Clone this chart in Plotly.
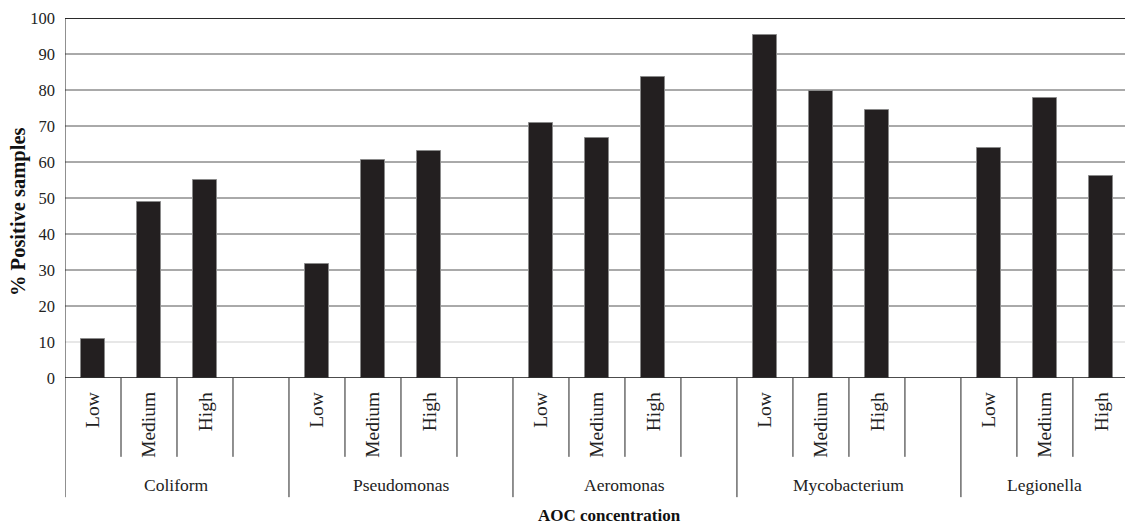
import plotly.graph_objects as go

groups = ["Coliform", "Pseudomonas", "Aeromonas", "Mycobacterium", "Legionella"]
levels = ["Low", "Medium", "High"]
values = {
    "Coliform": [10.8, 48.8, 55.0],
    "Pseudomonas": [31.7, 60.6, 63.0],
    "Aeromonas": [70.8, 66.8, 83.5],
    "Mycobacterium": [95.3, 79.8, 74.4],
    "Legionella": [63.8, 77.7, 56.2],
}
y_ticks = [0, 10, 20, 30, 40, 50, 60, 70, 80, 90, 100]

SLOTS = 4  # Low, Medium, High, blank
FONT = "'Liberation Serif', 'Times New Roman', Times, serif"

xs, ys = [], []
for gi, g in enumerate(groups):
    for li, v in enumerate(values[g]):
        xs.append(gi * SLOTS + li)
        ys.append(v)

fig = go.Figure()
fig.add_trace(go.Bar(
    x=xs, y=ys, width=0.44,
    marker=dict(color="#231f20", line=dict(color="#8a8a8a", width=1)),
    hoverinfo="x+y",
))

shapes = []
for t in y_ticks:
    if t == 0:
        continue
    if t == 100:
        col, w = "#2a2a2a", 2
    elif t == 10:
        col, w = "#cfcfcf", 1
    else:
        col, w = "#555555", 1
    shapes.append(dict(type="line", xref="paper", yref="y", x0=0, x1=1, y0=t, y1=t,
                       line=dict(color=col, width=w), layer="below"))

short_bottom = -0.219
long_bottom = -0.331
n_slots = len(groups) * SLOTS - 1
for k in range(n_slots):
    xb = k - 0.5
    if k % SLOTS == 0:
        y_top = 1 if k == 0 else 0
        shapes.append(dict(type="line", xref="x", yref="paper", x0=xb, x1=xb, y0=long_bottom, y1=y_top,
                           line=dict(color="#222", width=1)))
    else:
        shapes.append(dict(type="line", xref="x", yref="paper", x0=xb, x1=xb, y0=short_bottom, y1=0,
                           line=dict(color="#222", width=1)))
shapes.append(dict(type="line", xref="paper", yref="y", x0=0, x1=1, y0=0, y1=0,
                   line=dict(color="#111", width=1.5)))

annotations = []
for gi, g in enumerate(groups):
    for li, lv in enumerate(levels):
        annotations.append(dict(x=gi * SLOTS + li, y=-0.033, xref="x", yref="paper",
                                text=lv, textangle=-90, showarrow=False,
                                xanchor="center", yanchor="top",
                                font=dict(family=FONT, size=19.5, color="#222")))
    start = gi * SLOTS - 0.5
    end = min(start + SLOTS, n_slots - 0.5)
    annotations.append(dict(x=(start + end) / 2, y=-0.297, xref="x", yref="paper",
                            text=g, showarrow=False, xanchor="center", yanchor="middle",
                            font=dict(family=FONT, size=17.5, color="#222")))

annotations.append(dict(x=0.514, y=(378 - 515) / 360, xref="paper", yref="paper",
                        text="<b>AOC concentration</b>", showarrow=False,
                        xanchor="center", yanchor="middle",
                        font=dict(family=FONT, size=17, color="#111")))
annotations.append(dict(x=(18 - 65) / 1060, y=(378 - 212) / 360, xref="paper", yref="paper",
                        text="<b>% Positive samples</b>", showarrow=False, textangle=-90,
                        xanchor="center", yanchor="middle",
                        font=dict(family=FONT, size=20.5, color="#111")))

fig.update_layout(
    width=1125, height=525,
    margin=dict(l=65, r=0, t=18, b=147),
    plot_bgcolor="white", paper_bgcolor="white",
    showlegend=False,
    bargap=0,
    font=dict(family=FONT),
    xaxis=dict(range=[-0.5, n_slots - 0.57], showticklabels=False, showgrid=False,
               zeroline=False, showline=False, ticks=""),
    yaxis=dict(range=[0, 100], tickvals=y_ticks, showgrid=False, zeroline=False,
               showline=False, ticks="", ticklabelstandoff=9,
               tickfont=dict(family=FONT, size=16.5, color="#222")),
    shapes=shapes,
    annotations=annotations,
)

fig.write_html("out.html", config={"displayModeBar": False},
               post_script="document.body.style.margin='0';document.body.style.padding='0';")
